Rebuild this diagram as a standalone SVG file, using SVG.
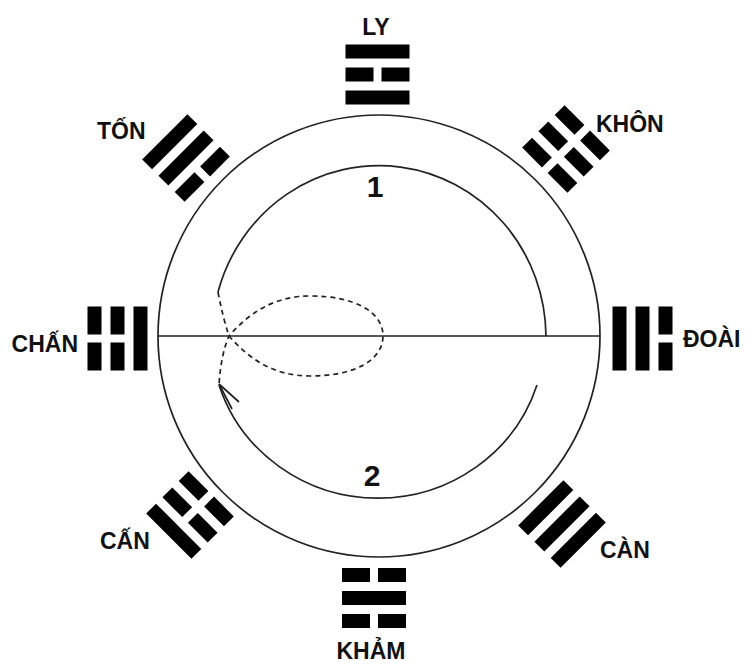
<svg xmlns="http://www.w3.org/2000/svg" xmlns:xlink="http://www.w3.org/1999/xlink" width="749" height="665" viewBox="0 0 749 665">
<style>
.lbl{font-family:"Liberation Sans",Arial,sans-serif;font-weight:bold;font-size:23px;fill:#111}
.num{font-family:"Liberation Sans",Arial,sans-serif;font-weight:bold;font-size:30px;fill:#111}
.ln{fill:none;stroke:#222;stroke-width:1.7}
.dash{fill:none;stroke:#222;stroke-width:1.7;stroke-dasharray:5 4}
.bar{fill:#000}
</style>
<defs>
<g id="s"><rect class="bar" x="-32" y="-7" width="64" height="14"/></g>
<g id="b"><rect class="bar" x="-32" y="-7" width="28" height="14"/><rect class="bar" x="4" y="-7" width="28" height="14"/></g>
</defs>
<rect width="749" height="665" fill="#fff"/>

<g id="connectors">
<circle class="ln" cx="379" cy="336" r="221"/>
<line class="ln" x1="158" y1="336" x2="600" y2="336"/>
<path class="ln" d="M546,336 A167 172 0 0 0 218,292"/>
<path class="ln" d="M537,385 A167 163 0 0 1 219,385"/>
<path class="dash" d="M218,292 Q223,318 229,336 C250,360 275,376 310,376 C355,376 383,360 383,336 C383,312 355,296 310,296 C275,296 250,312 229,336 Q221,354 219,385"/>
<path class="ln" d="M232,409 L219,384 L239,402"/>
</g>

<g id="ly"><g transform="translate(377.5,74.5)"><use xlink:href="#s" y="-23"/><use xlink:href="#b" y="0"/><use xlink:href="#s" y="23"/></g><text class="lbl" x="376" y="35" text-anchor="middle">LY</text></g>
<g id="khon"><g transform="translate(566,149) rotate(45)"><use xlink:href="#b" y="-23"/><use xlink:href="#b" y="0"/><use xlink:href="#b" y="23"/></g><text class="lbl" x="596" y="132">KHÔN</text></g>
<g id="doai"><g transform="translate(642.5,338.5) rotate(90)"><use xlink:href="#b" y="-23"/><use xlink:href="#s" y="0"/><use xlink:href="#s" y="23"/></g><text class="lbl" x="683" y="347">ĐOÀI</text></g>
<g id="can-right"><g transform="translate(562,524) rotate(135)"><use xlink:href="#s" y="-23"/><use xlink:href="#s" y="0"/><use xlink:href="#s" y="23"/></g><text class="lbl" x="600" y="558">CÀN</text></g>
<g id="kham"><g transform="translate(374,598) rotate(180)"><use xlink:href="#b" y="-23"/><use xlink:href="#s" y="0"/><use xlink:href="#b" y="23"/></g><text class="lbl" x="371" y="659" text-anchor="middle">KHẢM</text></g>
<g id="can-left"><g transform="translate(190,515) rotate(225)"><use xlink:href="#s" y="-23"/><use xlink:href="#b" y="0"/><use xlink:href="#b" y="23"/></g><text class="lbl" x="100" y="549">CẤN</text></g>
<g id="chan"><g transform="translate(117.5,338.5) rotate(270)"><use xlink:href="#b" y="-23"/><use xlink:href="#b" y="0"/><use xlink:href="#s" y="23"/></g><text class="lbl" x="78" y="352" text-anchor="end">CHẤN</text></g>
<g id="ton"><g transform="translate(186,158) rotate(315)"><use xlink:href="#s" y="-23"/><use xlink:href="#s" y="0"/><use xlink:href="#b" y="23"/></g><text class="lbl" x="97" y="139">TỐN</text></g>

<g id="label1"><text class="num" x="375" y="197" text-anchor="middle">1</text></g>
<g id="label2"><text class="num" x="372" y="486" text-anchor="middle">2</text></g>
</svg>
